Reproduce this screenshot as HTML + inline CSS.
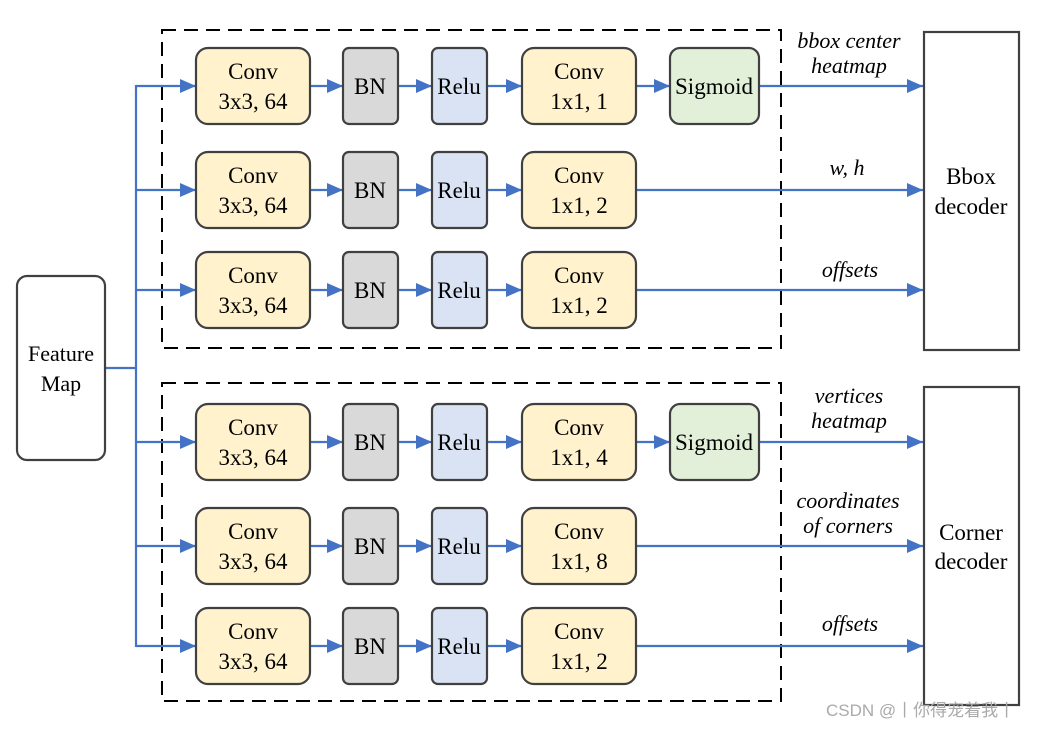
<!DOCTYPE html>
<html><head><meta charset="utf-8"><style>
html,body{margin:0;padding:0;background:#fff}
text{font-family:"Liberation Serif","Times New Roman",serif}
</style></head><body>
<svg width="1044" height="728" viewBox="0 0 1044 728" xmlns="http://www.w3.org/2000/svg" font-family="Liberation Serif, serif">
<defs>
<marker id="a" markerWidth="16" markerHeight="14" refX="16" refY="7" orient="auto" markerUnits="userSpaceOnUse">
<path d="M0,0 L16,7 L0,14 z" fill="#4472c4"/></marker>
</defs>
<g fill="none" stroke="#000" stroke-width="2" stroke-dasharray="14,8">
<rect x="162" y="30" width="619" height="318"/>
<rect x="162" y="383" width="619" height="318"/>
</g>
<g stroke="#4472c4" stroke-width="2.2" fill="none">
<line x1="105" y1="368" x2="136" y2="368"/>
<line x1="136" y1="85" x2="136" y2="647"/>
</g>
<rect x="17" y="276" width="88" height="184" rx="10" fill="#fff" stroke="#404040" stroke-width="2.2"/>
<text x="61" y="361" font-size="22" text-anchor="middle">Feature</text>
<text x="61" y="391" font-size="22" text-anchor="middle">Map</text>
<rect x="924" y="32" width="95" height="318" fill="#fff" stroke="#404040" stroke-width="2.2"/>
<text x="971" y="184" font-size="23" text-anchor="middle">Bbox</text>
<text x="971" y="214" font-size="23" text-anchor="middle">decoder</text>
<rect x="924" y="387" width="95" height="318" fill="#fff" stroke="#404040" stroke-width="2.2"/>
<text x="971" y="540" font-size="23" text-anchor="middle">Corner</text>
<text x="971" y="569" font-size="23" text-anchor="middle">decoder</text>
<g stroke="#4472c4" stroke-width="2.2" marker-end="url(#a)">
<line x1="136" y1="86" x2="196" y2="86"/><line x1="310" y1="86" x2="343" y2="86"/><line x1="398" y1="86" x2="432" y2="86"/><line x1="487" y1="86" x2="522" y2="86"/><line x1="636" y1="86" x2="670" y2="86"/><line x1="759" y1="86" x2="923" y2="86"/>
<line x1="136" y1="190" x2="196" y2="190"/><line x1="310" y1="190" x2="343" y2="190"/><line x1="398" y1="190" x2="432" y2="190"/><line x1="487" y1="190" x2="522" y2="190"/><line x1="636" y1="190" x2="923" y2="190"/>
<line x1="136" y1="290" x2="196" y2="290"/><line x1="310" y1="290" x2="343" y2="290"/><line x1="398" y1="290" x2="432" y2="290"/><line x1="487" y1="290" x2="522" y2="290"/><line x1="636" y1="290" x2="923" y2="290"/>
<line x1="136" y1="442" x2="196" y2="442"/><line x1="310" y1="442" x2="343" y2="442"/><line x1="398" y1="442" x2="432" y2="442"/><line x1="487" y1="442" x2="522" y2="442"/><line x1="636" y1="442" x2="670" y2="442"/><line x1="759" y1="442" x2="923" y2="442"/>
<line x1="136" y1="546" x2="196" y2="546"/><line x1="310" y1="546" x2="343" y2="546"/><line x1="398" y1="546" x2="432" y2="546"/><line x1="487" y1="546" x2="522" y2="546"/><line x1="636" y1="546" x2="923" y2="546"/>
<line x1="136" y1="646" x2="196" y2="646"/><line x1="310" y1="646" x2="343" y2="646"/><line x1="398" y1="646" x2="432" y2="646"/><line x1="487" y1="646" x2="522" y2="646"/><line x1="636" y1="646" x2="923" y2="646"/>
</g>
<g stroke="#404040" stroke-width="2.2">
<rect x="196" y="48" width="114" height="76" rx="12" fill="#fff2cc"/><rect x="343" y="48" width="55" height="76" rx="6" fill="#d9d9d9"/><rect x="432" y="48" width="55" height="76" rx="6" fill="#dae3f3"/><rect x="522" y="48" width="114" height="76" rx="12" fill="#fff2cc"/><rect x="670" y="48" width="89" height="76" rx="10" fill="#e2f0d9"/>
<rect x="196" y="152" width="114" height="76" rx="12" fill="#fff2cc"/><rect x="343" y="152" width="55" height="76" rx="6" fill="#d9d9d9"/><rect x="432" y="152" width="55" height="76" rx="6" fill="#dae3f3"/><rect x="522" y="152" width="114" height="76" rx="12" fill="#fff2cc"/>
<rect x="196" y="252" width="114" height="76" rx="12" fill="#fff2cc"/><rect x="343" y="252" width="55" height="76" rx="6" fill="#d9d9d9"/><rect x="432" y="252" width="55" height="76" rx="6" fill="#dae3f3"/><rect x="522" y="252" width="114" height="76" rx="12" fill="#fff2cc"/>
<rect x="196" y="404" width="114" height="76" rx="12" fill="#fff2cc"/><rect x="343" y="404" width="55" height="76" rx="6" fill="#d9d9d9"/><rect x="432" y="404" width="55" height="76" rx="6" fill="#dae3f3"/><rect x="522" y="404" width="114" height="76" rx="12" fill="#fff2cc"/><rect x="670" y="404" width="89" height="76" rx="10" fill="#e2f0d9"/>
<rect x="196" y="508" width="114" height="76" rx="12" fill="#fff2cc"/><rect x="343" y="508" width="55" height="76" rx="6" fill="#d9d9d9"/><rect x="432" y="508" width="55" height="76" rx="6" fill="#dae3f3"/><rect x="522" y="508" width="114" height="76" rx="12" fill="#fff2cc"/>
<rect x="196" y="608" width="114" height="76" rx="12" fill="#fff2cc"/><rect x="343" y="608" width="55" height="76" rx="6" fill="#d9d9d9"/><rect x="432" y="608" width="55" height="76" rx="6" fill="#dae3f3"/><rect x="522" y="608" width="114" height="76" rx="12" fill="#fff2cc"/>
</g>
<g font-size="23" text-anchor="middle">
<text x="253" y="79">Conv</text><text x="253" y="109">3x3, 64</text><text x="370" y="94">BN</text><text x="459" y="94">Relu</text><text x="579" y="79">Conv</text><text x="579" y="109">1x1, 1</text><text x="714" y="94">Sigmoid</text>
<text x="253" y="183">Conv</text><text x="253" y="213">3x3, 64</text><text x="370" y="198">BN</text><text x="459" y="198">Relu</text><text x="579" y="183">Conv</text><text x="579" y="213">1x1, 2</text>
<text x="253" y="283">Conv</text><text x="253" y="313">3x3, 64</text><text x="370" y="298">BN</text><text x="459" y="298">Relu</text><text x="579" y="283">Conv</text><text x="579" y="313">1x1, 2</text>
<text x="253" y="435">Conv</text><text x="253" y="465">3x3, 64</text><text x="370" y="450">BN</text><text x="459" y="450">Relu</text><text x="579" y="435">Conv</text><text x="579" y="465">1x1, 4</text><text x="714" y="450">Sigmoid</text>
<text x="253" y="539">Conv</text><text x="253" y="569">3x3, 64</text><text x="370" y="554">BN</text><text x="459" y="554">Relu</text><text x="579" y="539">Conv</text><text x="579" y="569">1x1, 8</text>
<text x="253" y="639">Conv</text><text x="253" y="669">3x3, 64</text><text x="370" y="654">BN</text><text x="459" y="654">Relu</text><text x="579" y="639">Conv</text><text x="579" y="669">1x1, 2</text>
</g>
<g font-size="22" font-style="italic" text-anchor="middle">
<text x="849" y="48">bbox center</text><text x="849" y="73">heatmap</text>
<text x="847" y="175">w, h</text>
<text x="850" y="277">offsets</text>
<text x="849" y="403">vertices</text><text x="849" y="428">heatmap</text>
<text x="848" y="508">coordinates</text><text x="848" y="533">of corners</text>
<text x="850" y="631">offsets</text>
</g>
<text x="826" y="716" font-size="17" fill="#aaa" font-family="Liberation Sans, Noto Sans CJK SC, sans-serif" style="font-family:'Liberation Sans','Noto Sans CJK SC',sans-serif">CSDN @丨你得宠着我丨</text>
</svg>
</body></html>
